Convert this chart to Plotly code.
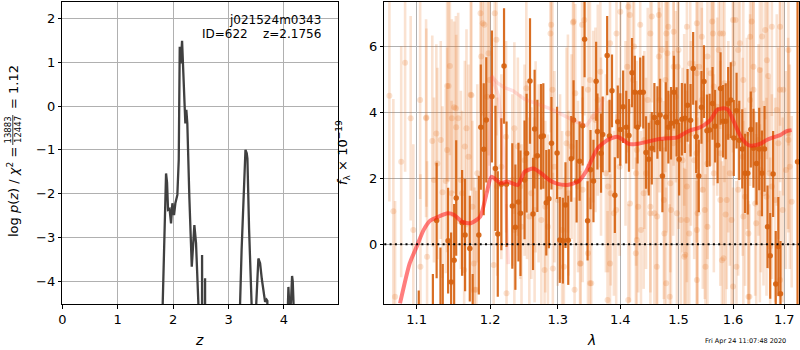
import plotly.graph_objects as go

# ---------------- data ----------------
pz_z = [0.00, 1.800, 1.812, 1.836, 1.872, 1.890, 1.908, 1.935, 1.962, 1.986,
        2.016, 2.040, 2.076, 2.101, 2.119, 2.137, 2.161, 2.184, 2.220, 2.238,
        2.256, 2.292, 2.336, 2.383, 2.413, 2.455, 2.470, 2.508, 2.522, 2.536,
        2.565, 2.576, 2.590, 3.190, 3.208, 3.235, 3.267, 3.290, 3.305, 3.328,
        3.340, 3.370, 3.395, 3.405, 3.415, 3.430, 3.488, 3.500, 3.538, 3.569,
        3.600, 3.628, 3.659, 3.685, 3.700, 3.712, 4.060, 4.072, 4.080, 4.095,
        4.125, 4.146, 4.158, 4.172, 4.185, 4.980]
pz_logp = [-30, -30, -4.5, -3.25, -1.54, -1.75, -2.37, -2.35, -2.68, -2.22,
           -2.49, -2.22, -2.03, -1.23, 1.35, 0.97, 1.49, 0.75, -0.40, -0.09,
           -0.40, -2.07, -3.67, -2.72, -3.13, -4.5, -30, -30, -3.40, -30,
           -30, -3.93, -30, -30, -4.5, -3.3, -2.07, -1.1, -1.0, -1.08,
           -1.2, -2.8, -4.0, -3.9, -4.5, -30, -30, -4.5, -3.48, -3.59,
           -3.95, -4.20, -4.47, -4.42, -4.45, -30, -30, -4.5, -4.13, -4.55,
           -4.5, -3.88, -4.0, -4.5, -30, -30]

dark_wave = [1.1027, 1.1213, 1.1263, 1.1314, 1.1345, 1.1417, 1.1458, 1.1499, 1.1527, 1.1608,
             1.1649, 1.1714, 1.1754, 1.1840, 1.1868, 1.1909, 1.1945, 1.2025, 1.2075, 1.2109,
             1.2160, 1.2199, 1.2235, 1.2319, 1.2364, 1.2409, 1.2439, 1.2499, 1.2529, 1.2580,
             1.2625, 1.2649, 1.2690, 1.2745, 1.2780, 1.2825, 1.2865, 1.2904, 1.2990, 1.3032,
             1.3079, 1.3120, 1.3163, 1.3210, 1.3246, 1.3294, 1.3341, 1.3389, 1.3420, 1.3468,
             1.3515, 1.3562, 1.3605, 1.3626, 1.3684, 1.3711, 1.3784, 1.3822, 1.3863, 1.3910,
             1.3958, 1.4000, 1.4047, 1.4099, 1.4144, 1.4196, 1.4243, 1.4289, 1.4334, 1.4386,
             1.4433, 1.4480, 1.4532, 1.4577, 1.4629, 1.4676, 1.4716, 1.4775, 1.4820, 1.4867,
             1.4919, 1.4965, 1.5011, 1.5059, 1.5113, 1.5161, 1.5215, 1.5262, 1.5316, 1.5364,
             1.5413, 1.5459, 1.5513, 1.5562, 1.5616, 1.5664, 1.5711, 1.5765, 1.5813, 1.5862,
             1.5908, 1.5957, 1.6014, 1.6067, 1.6118, 1.6176, 1.6229, 1.6282, 1.6341, 1.6392,
             1.6451, 1.6504, 1.6557, 1.6608, 1.6667, 1.6720, 1.6778, 1.6830, 1.6882, 1.6925,
             1.7270]
dark_flux = [-3.0, -2.6, 0.72, -1.9, -2.3, 0.11, -1.14, -0.48, 1.40, 0.65,
             0.28, -0.13, -2.5, 0.28, 3.55, 2.88, 3.77, 4.48, 2.30, 0.31,
             1.82, 5.40, 1.82, 1.16, 0.52, 1.28, 0.94, 1.95, 2.76, 4.95,
             0.92, 3.49, 2.68, 3.26, 3.28, 1.26, 1.38, 3.06, 2.77, 0.13,
             0.11, 1.19, 0.12, 2.59, 3.77, 1.91, 2.52, 3.59, 6.21, 0.71,
             2.26, 1.92, 4.94, 3.42, 2.76, 3.33, 5.72, 3.28, 4.65, 1.49,
             3.71, 3.48, 4.17, 3.55, 3.30, 5.20, 4.61, 3.55, 4.61, 4.61,
             2.78, 2.58, 2.91, 3.84, 3.69, 3.92, 2.07, 3.86, 3.55, 3.67,
             4.61, 3.71, 2.58, 3.79, 3.82, 4.21, 3.76, 5.33, 3.26, 2.07,
             4.15, 4.93, 3.44, 3.46, 4.27, 3.58, 3.00, 4.72, 3.73, 3.73,
             4.27, 4.37, 3.22, 4.05, 3.15, 2.89, 2.15, 2.15, 3.48, 2.91,
             2.45, 2.89, 2.15, 2.89, 0.53, -0.35, 2.13, -1.2, -0.07, -1.5,
             2.5]
dark_err = [1.6, 1.7, 1.75, 1.8, 1.7, 1.6, 1.5, 1.7, 1.75, 1.6,
            1.7, 1.6, 1.6, 1.8, 1.9, 2.0, 1.9, 2.0, 1.9, 1.9,
            2.0, 1.75, 1.9, 1.9, 1.9, 1.8, 1.9, 1.8, 1.8, 1.9,
            1.7, 1.8, 1.7, 1.6, 1.6, 1.6, 1.5, 1.4, 1.4, 1.3,
            1.3, 1.3, 1.35, 1.3, 1.2, 1.25, 1.2, 1.2, 1.15, 1.2,
            1.2, 1.25, 1.2, 1.15, 1.2, 1.15, 1.2, 1.1, 1.1, 1.15,
            1.1, 1.1, 1.1, 1.1, 1.1, 1.05, 1.1, 1.1, 1.05, 1.1,
            1.1, 1.1, 1.1, 1.05, 1.1, 1.1, 1.1, 1.05, 1.1, 1.1,
            1.1, 1.05, 1.1, 1.1, 1.05, 1.1, 1.1, 1.1, 1.1, 1.1,
            1.1, 1.1, 1.1, 1.1, 1.1, 1.1, 1.15, 1.1, 1.1, 1.15,
            1.1, 1.15, 1.15, 1.15, 1.2, 1.2, 1.2, 1.25, 1.15, 1.2,
            1.25, 1.25, 1.3, 1.3, 1.25, 1.3, 1.3, 1.6, 1.5, 1.6,
            6.0]

faint_wave = [1.0722, 1.0922, 1.0956, 1.1045, 1.1049, 1.1127, 1.1205, 1.1227, 1.1273, 1.1318,
              1.1341, 1.1386, 1.1404, 1.1441, 1.1423, 1.1468, 1.1499, 1.1527, 1.1554, 1.1591,
              1.1608, 1.1668, 1.1696, 1.1727, 1.1750, 1.1782, 1.1818, 1.1864, 1.1895, 1.1955,
              1.1977, 1.1991, 1.2065, 1.2100, 1.2160, 1.2229, 1.2319, 1.2349, 1.2400, 1.2435,
              1.2454, 1.2499, 1.2535, 1.2570, 1.2600, 1.2649, 1.2664, 1.2709, 1.2750, 1.2810,
              1.2850, 1.2889, 1.2919, 1.2949, 1.3000, 1.3036, 1.3068, 1.3095, 1.3136, 1.3167,
              1.3215, 1.3237, 1.3273, 1.3316, 1.3348, 1.3389, 1.3416, 1.3474, 1.3526, 1.3558,
              1.3594, 1.3632, 1.3684, 1.3763, 1.3799, 1.3842, 1.3894, 1.3932, 1.3989, 1.4000,
              1.4087, 1.4116, 1.4161, 1.4213, 1.4231, 1.4265, 1.4300, 1.4347, 1.4404, 1.4433,
              1.4463, 1.4508, 1.4532, 1.4577, 1.4619, 1.4664, 1.4705, 1.4750, 1.4792, 1.4820,
              1.4867, 1.4906, 1.4953, 1.4983, 1.5000, 1.5041, 1.5072, 1.5101, 1.5149, 1.5191,
              1.5221, 1.5281, 1.5324, 1.5342, 1.5371, 1.5419, 1.5437, 1.5473, 1.5522, 1.5581,
              1.5623, 1.5640, 1.5702, 1.5730, 1.5761, 1.5810, 1.5838, 1.5881, 1.5910, 1.5940,
              1.5971, 1.6000, 1.6047, 1.6098, 1.6131, 1.6184, 1.6229, 1.6263, 1.6294, 1.6327,
              1.6392, 1.6425, 1.6445, 1.6490, 1.6537, 1.6588, 1.6621, 1.6655, 1.6706, 1.6753,
              1.6818, 1.6882, 1.6916, 1.6969, 1.6980, 1.7034, 1.7079, 1.7112, 1.6314, 1.5101,
              1.4260, 1.5486, 1.5791, 1.6720, 1.1136, 1.1636, 1.6000, 1.4781, 1.3790, 1.3262,
              1.4133, 1.4160, 1.4334, 1.4508, 1.4654, 1.4785, 1.4913, 1.5000, 1.5149, 1.5329,
              1.5419, 1.3831, 1.3937, 1.3673, 1.4654, 1.4803, 1.4913, 1.5209, 1.5329, 1.4768,
              1.4277, 1.4393, 1.4508, 1.4624, 1.4740, 1.4855, 1.4971, 1.5149, 1.5329, 1.4277,
              1.3831, 1.4133, 1.4844, 1.5119, 1.5329, 1.5611, 1.5760, 1.6000, 1.6357, 1.6560,
              1.6753, 1.7085, 1.6327, 1.6098, 1.6196, 1.6516, 1.6680, 1.6916, 1.5522, 1.5640,
              1.6392, 1.6851, 1.7085, 1.7151, 1.6647, 1.6516, 1.6196, 1.5860, 1.5761, 1.5522,
              1.6916, 1.6294, 1.5821, 1.6065, 1.1123, 1.1259, 1.1404, 1.1522, 1.1645, 1.1918,
              1.1873, 1.1737, 1.1464, 1.1772, 1.1805, 1.0800, 1.0650, 1.0700, 1.0850, 1.2090,
              1.2525, 1.2899, 1.3247, 1.3380, 1.3506, 1.3474, 1.2349, 1.3158, 1.2799, 1.2925,
              1.3358, 1.3506, 1.2050, 1.2235]
faint_flux = [-1.59, 3.82, 0.43, 4.37, -0.68, 3.84, 3.13, 1.95, 2.45, 3.16,
              1.58, 1.92, 2.86, 5.40, 4.80, 3.82, 4.15, 3.55, 3.82, 1.95,
              1.55, 3.52, 2.65, 4.53, 1.14, -1.38, 2.15, 7.0, 6.70, 4.47,
              5.79, 4.98, 7.0, 1.75, 2.35, 3.26, 1.95, 0.43, 2.96, 1.75,
              0.53, 2.55, 2.25, 0.84, 1.55, 1.04, 2.65, 2.15, 0.74, 1.14,
              0.53, 6.39, 4.68, 2.35, 1.34, 1.75, 0.43, -0.68, 3.06, 1.55,
              2.96, 6.72, 4.58, 1.75, -0.58, 1.65, 6.80, -0.27, -1.18, 3.87,
              3.77, 4.37, 2.96, 2.15, 1.75, 1.55, 0.94, 1.04, 2.35, 7.05,
              3.36, 5.38, 1.24, 4.98, 5.99, 2.15, 1.14, 0.43, 3.16, 2.15,
              4.37, 0.94, 6.90, 0.94, -0.68, 4.37, 5.89, 0.33, 3.26, 6.59,
              1.04, 3.06, 4.47, 5.38, 3.16, 0.74, 2.55, 3.77, 1.75, 0.33,
              3.36, 2.55, 2.76, 0.94, 5.38, 4.37, 1.65, 1.04, 2.45, 5.18,
              6.39, 2.15, 4.17, 5.89, 2.76, 6.39, 4.88, 1.34, 3.26, 2.15,
              0.74, 5.48, 6.80, 1.65, 6.09, 2.65, 1.44, 3.36, 0.33, 4.37,
              5.38, 1.24, 0.64, 3.16, 2.25, 1.55, 6.49, 5.58, 2.15, 1.75,
              1.34, 3.06, 6.59, 1.04, 4.68, 2.25, 3.36, 2.35, -1.59, -0.38,
              -0.27, -0.68, -0.48, -0.07, -0.38, -0.78, -1.28, -1.18, -1.69, -1.38,
              7.2, 6.95, 6.65, 6.39, 6.95, 6.39, 6.44, 5.89, 6.59, 6.70,
              6.29, 6.09, 6.39, 5.23, 5.69, 5.79, 5.38, 5.48, 5.18, 4.98,
              2.86, 1.55, 1.14, 0.84, 1.34, 1.85, 0.94, 0.74, 0.43, 0.13,
              -0.58, -1.69, -1.59, -0.32, -1.08, 6.75, 6.39, 6.80, 6.75, 6.30,
              6.59, 5.89, 6.29, 5.89, 4.98, 5.28, 5.10, 4.68, 5.69, 4.78,
              4.68, 4.07, 3.16, 1.29, 1.44, 0.94, 0.84, 0.90, 1.34, 0.53,
              -1.08, -1.59, -0.42, -0.68, 3.82, 3.36, 4.80, 4.12, 2.96, 6.65,
              5.69, 4.52, 1.55, -0.58, -1.38, 2.5, 4.5, 1.0, 5.5, 6.2,
              4.73, 6.65, 6.75, 6.65, 4.98, 4.68, 3.52, 3.36, -0.78, -0.73,
              -0.58, -1.18, -0.63, -1.48]
faint_err = [2.9, 3.1, 2.6, 3.0, 2.8, 2.7, 3.2, 2.5, 2.9, 3.0,
             2.6, 2.8, 3.1, 2.7, 2.9, 3.0, 2.6, 2.8, 3.2, 2.7,
             2.5, 3.0, 2.8, 2.9, 2.6, 3.1, 2.7, 3.0, 2.8, 2.9,
             3.1, 2.6, 3.0, 2.7, 2.8, 2.9, 2.6, 3.0, 2.7, 2.8,
             2.5, 2.9, 2.7, 3.0, 2.6, 2.8, 2.9, 2.7, 3.1, 2.6,
             2.8, 3.0, 2.7, 2.9, 2.6, 2.8, 3.0, 2.7, 2.9, 2.5,
             2.8, 3.1, 2.7, 2.6, 3.0, 2.8, 2.9, 2.7, 3.0, 2.6,
             2.8, 2.9, 2.7, 3.0, 2.6, 2.8, 2.5, 2.9, 2.7, 3.1,
             2.8, 2.6, 3.0, 2.7, 2.9, 2.8, 2.6, 3.0, 2.7, 2.9,
             2.8, 3.0, 2.6, 2.9, 2.7, 2.8, 3.1, 2.6, 2.9, 2.7,
             3.0, 2.8, 2.6, 2.9, 2.7, 3.0, 2.8, 2.6, 2.9, 2.7,
             2.8, 3.0, 2.7, 2.9, 2.6, 2.8, 3.0, 2.7, 2.9, 2.8,
             2.6, 3.0, 2.7, 2.9, 2.8, 2.6, 3.0, 2.7, 2.9, 2.8,
             3.0, 2.7, 2.9, 2.6, 2.8, 3.0, 2.7, 2.9, 2.8, 2.6,
             3.0, 2.8, 2.7, 2.9, 3.1, 2.8, 2.7, 3.0, 2.9, 2.8,
             3.1, 2.9, 3.0, 2.8, 3.2, 3.0, 2.9, 3.1, 2.8, 2.7,
             2.9, 2.8, 3.0, 2.7, 2.9, 2.8, 3.0, 2.9, 2.7, 2.8,
             2.8, 3.0, 2.7, 2.9, 2.6, 2.8, 3.0, 2.7, 2.9, 2.8,
             2.6, 3.0, 2.7, 2.9, 2.8, 2.6, 3.0, 2.7, 2.9, 2.8,
             2.7, 2.9, 2.6, 2.8, 3.0, 2.7, 2.9, 2.8, 2.6, 3.0,
             2.7, 2.9, 2.8, 2.6, 3.0, 2.7, 2.9, 2.8, 2.6, 3.0,
             2.7, 2.9, 2.8, 2.6, 3.0, 2.7, 2.9, 2.8, 2.6, 3.0,
             2.7, 2.9, 2.8, 2.6, 3.0, 2.7, 2.9, 2.8, 2.6, 3.0,
             2.7, 2.9, 2.8, 2.6, 3.0, 2.7, 2.9, 2.8, 2.6, 3.0,
             2.7, 2.9, 2.8, 2.6, 3.0, 3.5, 3.2, 3.4, 3.3, 2.9,
             2.8, 2.6, 3.0, 2.7, 2.9, 2.8, 2.6, 3.0, 2.7, 2.9,
             2.8, 2.6, 3.0, 2.7]

model_wave = [1.0785, 1.0909, 1.1000, 1.1090, 1.1180, 1.1300, 1.1410, 1.1500, 1.1610, 1.1727,
              1.1860, 1.1950, 1.2020, 1.2150, 1.2250, 1.2400, 1.2500, 1.2630, 1.2750, 1.2870,
              1.3000, 1.3150, 1.3320, 1.3440, 1.3530, 1.3630, 1.3790, 1.3950, 1.4050, 1.4140,
              1.4280, 1.4460, 1.4630, 1.4810, 1.4980, 1.5100, 1.5220, 1.5340, 1.5460, 1.5580,
              1.5700, 1.5820, 1.5910, 1.6000, 1.6100, 1.6190, 1.6290, 1.6390, 1.6520, 1.6650,
              1.6780, 1.6920, 1.7050, 1.7150]
model_flux = [-1.79, -0.58, -0.07, 0.43, 0.72, 0.85, 0.94, 0.89, 0.68, 0.64,
              0.84, 1.55, 2.05, 1.85, 1.90, 1.80, 2.20, 2.30, 2.15, 1.95,
              1.83, 1.80, 1.90, 2.20, 2.55, 2.91, 3.16, 3.26, 3.16, 3.04,
              3.04, 3.11, 3.18, 3.21, 3.24, 3.36, 3.46, 3.51, 3.61, 3.77,
              4.07, 4.12, 4.07, 3.77, 3.41, 3.16, 3.01, 2.99, 3.04, 3.16,
              3.24, 3.31, 3.43, 3.46]

alt_model_wave = [1.1980, 1.2020, 1.2100, 1.2200, 1.2330, 1.2500, 1.2700, 1.2900, 1.3100, 1.3300,
                  1.3450, 1.3580, 1.3680, 1.3720]
alt_model_flux = [2.0, 5.1, 4.9, 4.75, 4.65, 4.40, 4.25, 4.10, 3.90, 3.70,
                  3.60, 3.95, 4.10, 4.45]
alt_drop_wave = [1.2020, 1.2120, 1.2200, 1.2230, 1.2260]
alt_drop_flux = [5.1, 4.5, 2.6, 0.8, -0.6]

z_ticks = [0, 1, 2, 3, 4]
logp_ticks = [-4, -3, -2, -1, 0, 1, 2]
wave_ticks = [1.1, 1.2, 1.3, 1.4, 1.5, 1.6, 1.7]
flux_ticks = [0, 2, 4, 6]

# ---------------- figure ----------------
W, H = 800, 350
FONT = "DejaVu Sans"
FAINT = "rgba(232,112,24,0.2)"
DARK = "rgba(214,98,16,0.92)"

fig = go.Figure()

fig.add_trace(go.Scatter(x=pz_z, y=pz_logp, mode="lines",
                         line=dict(color="#404040", width=2.3),
                         xaxis="x", yaxis="y", showlegend=False))

fig.add_trace(go.Scatter(x=faint_wave, y=faint_flux, mode="markers",
                         marker=dict(color=FAINT, size=6, line=dict(width=0)),
                         error_y=dict(type="data", array=faint_err, color=FAINT,
                                      thickness=2.6, width=0),
                         xaxis="x2", yaxis="y2", showlegend=False))

fig.add_trace(go.Scatter(x=dark_wave, y=dark_flux, mode="markers",
                         marker=dict(color=DARK, size=5.5, line=dict(width=0)),
                         error_y=dict(type="data", array=dark_err, color=DARK,
                                      thickness=2.2, width=0),
                         xaxis="x2", yaxis="y2", showlegend=False))

fig.add_trace(go.Scatter(x=alt_model_wave, y=alt_model_flux, mode="lines",
                         line=dict(color="rgba(255,90,90,0.18)", width=3.5),
                         xaxis="x2", yaxis="y2", showlegend=False))
fig.add_trace(go.Scatter(x=alt_drop_wave, y=alt_drop_flux, mode="lines",
                         line=dict(color="rgba(255,90,90,0.18)", width=3.5),
                         xaxis="x2", yaxis="y2", showlegend=False))

fig.add_trace(go.Scatter(x=model_wave, y=model_flux, mode="lines",
                         line=dict(color="rgba(255,20,20,0.55)", width=4, shape="spline",
                                   smoothing=0.6),
                         xaxis="x2", yaxis="y2", showlegend=False))

ydom = [1 - 304 / H, 1 - 2 / H]
axis_common = dict(showgrid=True, gridcolor="#b0b0b0", gridwidth=1,
                   showline=True, linecolor="black", linewidth=1, mirror=True,
                   ticks="outside", ticklen=3.5, tickwidth=1, tickcolor="black",
                   zeroline=False, automargin=False,
                   tickfont=dict(family=FONT, size=13, color="black"))

fig.update_layout(
    width=W, height=H,
    margin=dict(l=0, r=0, t=0, b=0, pad=0, autoexpand=False),
    paper_bgcolor="white", plot_bgcolor="white",
    font=dict(family=FONT, color="black"),
    xaxis=dict(domain=[62.3 / W, 338.3 / W], range=[0, 4.98], anchor="y",
               tickvals=z_ticks, **axis_common),
    yaxis=dict(domain=ydom, range=[-4.52, 2.374], anchor="x",
               tickvals=logp_ticks, **axis_common),
    xaxis2=dict(domain=[384.3 / W, 799 / W], type="log", range=[0.02473, 0.23805],
                anchor="y2", tickvals=wave_ticks,
                ticktext=[f"{v:.1f}" for v in wave_ticks], **axis_common),
    yaxis2=dict(domain=ydom, range=[-1.809, 7.342], anchor="x2",
                tickvals=flux_ticks, **axis_common),
)

# dotted zero line
fig.add_shape(type="line", xref="x2 domain", yref="y2", x0=0, x1=1, y0=0, y1=0,
              line=dict(color="black", width=2, dash="2px,3.3px"), layer="above")

def px(x):
    return x / W

def py(y):
    return 1 - y / H

ann = []
ann.append(dict(text="<i>z</i>", x=px(199.5), y=py(340), font=dict(size=14)))
ann.append(dict(text="<i>λ</i>", x=px(591.7), y=py(340), font=dict(size=14)))
ann.append(dict(text="j021524m0343", x=px(323), y=py(20), xanchor="right",
                font=dict(size=12)))
ann.append(dict(text="ID=622\u00a0\u00a0\u00a0\u00a0z=2.1756", x=px(323), y=py(34.3),
                xanchor="right", font=dict(size=12)))
ann.append(dict(text="Fri Apr 24 11:07:48 2020", x=px(788), y=py(340.7),
                xanchor="right", font=dict(size=6.5)))
# left y label
ann.append(dict(text="log <i>p</i>(<i>z</i>) / <i>χ</i><sup>2</sup> =", x=px(13), y=py(192),
                textangle=-90, font=dict(size=13)))
ann.append(dict(text="13883", x=px(7.5), y=py(130), textangle=-90, font=dict(size=8.5)))
ann.append(dict(text="12447", x=px(18), y=py(130), textangle=-90, font=dict(size=8.5)))
ann.append(dict(text="= 1.12", x=px(13), y=py(87), textangle=-90, font=dict(size=13)))
# right y label
ann.append(dict(text="<i>f</i><sub>λ</sub> × 10<sup>−19</sup>", x=px(343), y=py(153),
                textangle=-90, font=dict(size=13)))

for a in ann:
    a.setdefault("xanchor", "center")
    a.setdefault("yanchor", "middle")
    a.update(xref="paper", yref="paper", showarrow=False)
    a["font"] = dict(family=FONT, color="black", **a["font"])
    fig.add_annotation(**a)

fig.add_shape(type="line", xref="paper", yref="paper", x0=px(12.8), x1=px(12.8),
              y0=py(115), y1=py(145), line=dict(color="black", width=0.8))

fig.write_html("out.html", config={"displayModeBar": False},
               post_script="document.body.style.margin='0px';document.body.style.padding='0px';")
